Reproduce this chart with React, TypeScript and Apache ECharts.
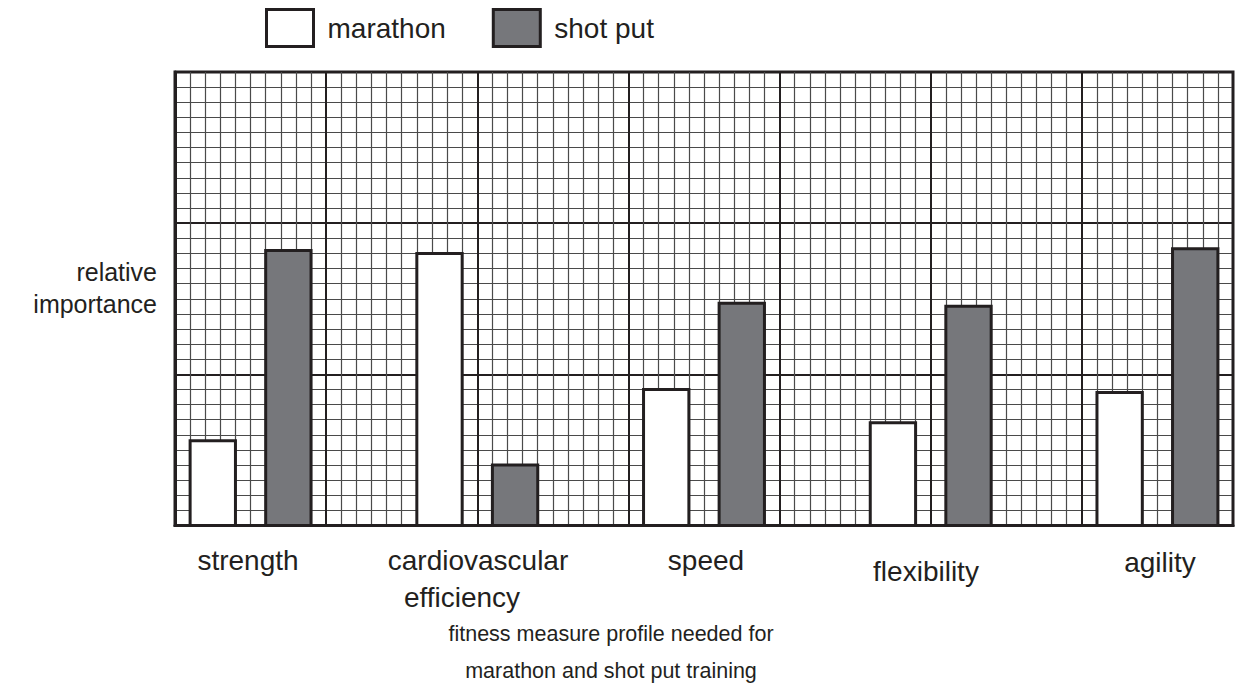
import React, { useEffect, useRef } from "react";
import * as echarts from "echarts";

const categories = ["strength", "cardiovascular", "speed", "flexibility", "agility"];
const categorySecondLine = ["", "efficiency", "", "", ""];
const categoryCenters = [5, 20, 35, 50, 65];
const marathon = [5.6, 18.0, 9.0, 6.8, 8.8];
const shotPut = [18.2, 4.0, 14.7, 14.5, 18.3];
const xTicks = [0, 10, 20, 30, 40, 50, 60, 70];
const yTicks = [0, 10, 20, 30];

const INK = "#231f20";
const GREY = "#76777b";
const FONT = "Liberation Sans, Arial, Helvetica, sans-serif";

export default function App() {
  const ref = useRef<HTMLDivElement>(null);
  useEffect(() => {
    document.body.style.margin = "0";
    const chart = echarts.init(ref.current!, null, { renderer: "svg" });

    const makeRender = (side: number) => (params: any, api: any) => {
      const c = api.value(0);
      const v = api.value(1);
      const x0 = side < 0 ? c - 4 : c + 1;
      const x1 = side < 0 ? c - 1 : c + 4;
      const p0 = api.coord([x0, 0]);
      const p1 = api.coord([x1, v]);
      return {
        type: "rect",
        shape: { x: p0[0], y: p1[1], width: p1[0] - p0[0], height: p0[1] - p1[1] },
        style: { fill: side < 0 ? "#ffffff" : GREY, stroke: INK, lineWidth: 3 },
      };
    };

    const labelLayout: { x: number; y: number; x2: number }[] = [
      { x: 248, y: 560, x2: 0 },
      { x: 478, y: 560, x2: 462 },
      { x: 706, y: 560, x2: 0 },
      { x: 926, y: 571, x2: 0 },
      { x: 1160, y: 562, x2: 0 },
    ];

    const textStyle = (text: string, size: number, align: string) => ({
      text,
      fontSize: size,
      fontFamily: FONT,
      fill: INK,
      align,
      verticalAlign: "middle",
    });

    const graphics: any[] = [];
    categories.forEach((name, i) => {
      graphics.push({
        type: "text",
        x: labelLayout[i].x,
        y: labelLayout[i].y,
        style: textStyle(name, 28, "center"),
      });
      if (categorySecondLine[i]) {
        graphics.push({
          type: "text",
          x: labelLayout[i].x2,
          y: labelLayout[i].y + 37,
          style: textStyle(categorySecondLine[i], 28, "center"),
        });
      }
    });
    graphics.push({ type: "text", x: 157, y: 272, style: textStyle("relative", 25, "right") });
    graphics.push({ type: "text", x: 157, y: 304, style: textStyle("importance", 25, "right") });
    graphics.push({
      type: "text",
      x: 611,
      y: 634,
      style: textStyle("fitness measure profile needed for", 21.5, "center"),
    });
    graphics.push({
      type: "text",
      x: 611,
      y: 671,
      style: textStyle("marathon and shot put training", 21.5, "center"),
    });

    chart.setOption({
      animation: false,
      backgroundColor: "#ffffff",
      textStyle: { fontFamily: FONT, color: INK },
      legend: {
        left: 265,
        top: 8,
        padding: 0,
        itemWidth: 47,
        itemHeight: 37,
        itemGap: 46,
        icon: "rect",
        selectedMode: false,
        textStyle: { fontSize: 28, color: INK, fontFamily: FONT, padding: [0, 0, 0, 9] },
        data: [
          { name: "marathon", itemStyle: { color: "#ffffff", borderColor: INK, borderWidth: 3 } },
          { name: "shot put", itemStyle: { color: GREY, borderColor: INK, borderWidth: 3 } },
        ],
      },
      grid: {
        left: 175,
        top: 72,
        width: 1058,
        height: 453.5,
        show: true,
        borderColor: INK,
        borderWidth: 3,
        backgroundColor: "transparent",
      },
      xAxis: {
        type: "value",
        min: xTicks[0],
        max: xTicks[xTicks.length - 1],
        interval: xTicks[1] - xTicks[0],
        axisLabel: { show: false },
        axisTick: { show: false },
        axisLine: { show: true, lineStyle: { color: INK, width: 3 } },
        splitLine: { show: true, lineStyle: { color: INK, width: 2 } },
        minorTick: { show: false, splitNumber: 10 },
        minorSplitLine: { show: true, lineStyle: { color: "#4a4a4a", width: 1.2 } },
      },
      yAxis: {
        type: "value",
        min: yTicks[0],
        max: yTicks[yTicks.length - 1],
        interval: yTicks[1] - yTicks[0],
        axisLabel: { show: false },
        axisTick: { show: false },
        axisLine: { show: true, lineStyle: { color: INK, width: 3 } },
        splitLine: { show: true, lineStyle: { color: INK, width: 2 } },
        minorTick: { show: false, splitNumber: 10 },
        minorSplitLine: { show: true, lineStyle: { color: "#4a4a4a", width: 1.2 } },
      },
      series: [
        {
          name: "marathon",
          type: "custom",
          itemStyle: { color: "#ffffff", borderColor: INK, borderWidth: 3 },
          renderItem: makeRender(-1),
          data: categoryCenters.map((c, i) => [c, marathon[i]]),
        },
        {
          name: "shot put",
          type: "custom",
          itemStyle: { color: GREY, borderColor: INK, borderWidth: 3 },
          renderItem: makeRender(1),
          data: categoryCenters.map((c, i) => [c, shotPut[i]]),
        },
      ],
      graphic: graphics,
    });
    return () => chart.dispose();
  }, []);
  return <div ref={ref} style={{ width: 1237, height: 694 }} />;
}
